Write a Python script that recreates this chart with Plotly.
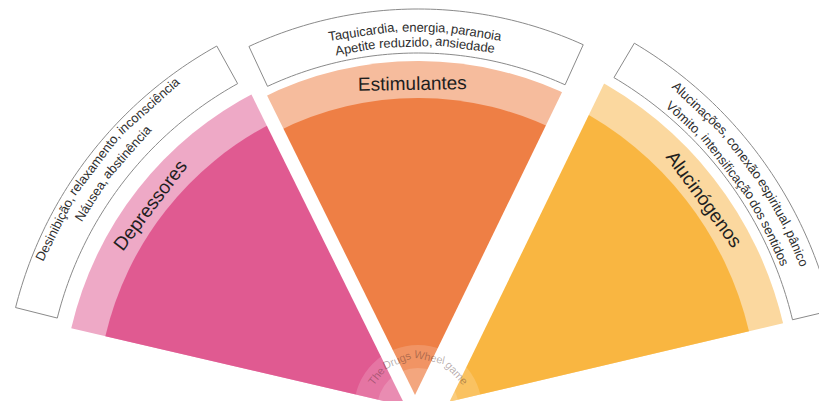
import math
import numpy as np
import plotly.graph_objects as go

FIG_W, FIG_H = 827, 401

# ---------------- data ----------------
categories = ["Depressores", "Estimulantes", "Alucinógenos"]
sector_from = [116.8, 62.8, 13.2]      # degrees (counter-clockwise from east)
sector_to = [166.9, 116.8, 62.8]
outer_radius = [356, 348, 375]
inner_radius = [321, 311, 340]
effects_outer = [
    "Desinibição, relaxamento, inconsciência",
    "Taquicardia, energia, paranoia",
    "Alucinações, conexão espiritual, pânico",
]
effects_inner = [
    "Náusea, abstinência",
    "Apetite reduzido, ansiedade",
    "Vômito, intensificação dos sentidos",
]
watermark = "The Drugs Wheel game"

# ---------------- styling / placement ----------------
dark_colors = ["#E05A91", "#EE7F45", "#F9B641"]
light_colors = ["#EEA9C6", "#F6BC9D", "#FBD89F"]

box_from = [119.0, 65.6, 13.4]
box_to = [165.85, 115.0, 59.4]
box_base = [372, 356, 385]
box_top = [415, 400, 425]
BOX_LINE = "#8a8a8a"

label_radius = [337, 326, 355]
label_theta = [142.75, 90.9, 36.2]
effects_theta = [142.3, 90.5, 36.0]
effects_outer_radius = [406, 381.5, 412]
effects_inner_radius = [388, 367, 394]

gap_angle = [116.3, 64.1]
gap_shift = [3.2, -8.2]
gap_width = [13.5, 34]
gap_reach = [364, 382]

ring_outer, ring_inner, ring_text_r = 64, 41, 53

SECTOR = [10, 170]
DOMAIN_X = [0.0, 0.9915]
R_MAX = 401
FONT = "Liberation Sans, Arial, Helvetica, sans-serif"

# ---------------- polar geometry (mirrors plotly's layout of the sector) ----------------
a0, a1 = (math.radians(v) for v in SECTOR)
bx0, bx1 = min(math.cos(a0), math.cos(a1)), max(math.cos(a0), math.cos(a1))
by0, by1 = 0.0, 1.0
xlen = FIG_W * (DOMAIN_X[1] - DOMAIN_X[0])
ylen = FIG_H
if xlen / ylen > (bx1 - bx0) / (by1 - by0):
    RAD = ylen / (by1 - by0)
    xoff = FIG_W * DOMAIN_X[0] + (xlen - RAD * (bx1 - bx0)) / 2
    yoff = 0.0
else:
    RAD = xlen / (bx1 - bx0)
    xoff = FIG_W * DOMAIN_X[0]
    yoff = (ylen - RAD * (by1 - by0)) / 2
CX = xoff - RAD * bx0
CY = yoff + RAD * by1
SCALE = RAD / R_MAX          # pixels per radial unit


def ax(v):
    """pixel radius -> radial axis units"""
    return v / SCALE


def to_paper(rpx, th_deg):
    t = math.radians(th_deg)
    x = CX + rpx * math.cos(t)
    y = CY - rpx * math.sin(t)
    return x / FIG_W, 1 - y / FIG_H


# Helvetica / Arial advance widths (per 1000 em)
CW = {' ': 278, ',': 278, '.': 278,
      'a': 556, 'b': 556, 'c': 500, 'd': 556, 'e': 556, 'f': 278, 'g': 556, 'h': 556, 'i': 222,
      'j': 222, 'k': 500, 'l': 222, 'm': 833, 'n': 556, 'o': 556, 'p': 556, 'q': 556, 'r': 333,
      's': 500, 't': 278, 'u': 556, 'v': 500, 'w': 722, 'x': 500, 'y': 500, 'z': 500,
      'A': 667, 'B': 667, 'C': 722, 'D': 722, 'E': 667, 'F': 611, 'G': 778, 'H': 722, 'I': 278,
      'J': 500, 'K': 667, 'L': 556, 'M': 833, 'N': 722, 'O': 778, 'P': 667, 'Q': 778, 'R': 722,
      'S': 667, 'T': 611, 'U': 722, 'V': 667, 'W': 944, 'X': 667, 'Y': 667, 'Z': 611,
      'ç': 500, 'ã': 556, 'á': 556, 'â': 556, 'ê': 556, 'é': 556, 'ó': 556, 'ô': 556, 'õ': 556,
      'í': 222, 'ú': 556}


def text_w(s, size):
    return sum(CW.get(ch, 556) for ch in s) * size / 1000.0


annotations = []


def arc_text(text, rpx, theta_c, size, color):
    words = text.split(' ')
    sp = text_w(' ', size) * 0.85
    widths = [text_w(w, size) for w in words]
    total = sum(widths) + sp * (len(words) - 1)
    start = theta_c + math.degrees(total / 2 / rpx)
    pos = 0.0
    for w, wd in zip(words, widths):
        th = start - math.degrees((pos + wd / 2) / rpx)
        x, y = to_paper(rpx, th)
        annotations.append(dict(
            x=x, y=y, xref="paper", yref="paper", text=w, showarrow=False,
            xanchor="center", yanchor="middle", textangle=90 - th,
            font=dict(family=FONT, size=size, color=color)))
        pos += wd + sp


fig = go.Figure()

centers = [(a + b) / 2 for a, b in zip(sector_from, sector_to)]
widths = [b - a for a, b in zip(sector_from, sector_to)]

# light outer band (full wedge) and darker core
fig.add_trace(go.Barpolar(r=[ax(v) for v in outer_radius], theta=centers, width=widths, base=0,
                          marker=dict(color=light_colors, line=dict(width=0)),
                          hoverinfo="skip", name="faixa"))
fig.add_trace(go.Barpolar(r=[ax(v) for v in inner_radius], theta=centers, width=widths, base=0,
                          marker=dict(color=dark_colors, line=dict(width=0)),
                          hoverinfo="skip", name="categorias"))

# translucent centre ring
for rr in (ring_outer, ring_inner):
    fig.add_trace(go.Barpolar(r=[ax(rr)], theta=[90], width=[180], base=0,
                              marker=dict(color="rgba(255,255,255,0.17)", line=dict(width=0)),
                              hoverinfo="skip"))

# white separating gaps
for ang, d, w, reach in zip(gap_angle, gap_shift, gap_width, gap_reach):
    phi = math.radians(ang)
    rr, tt = [], []
    for s in (-80, reach):
        x = s * math.cos(phi) - d * math.sin(phi)
        y = s * math.sin(phi) + d * math.cos(phi)
        rr.append(ax(math.hypot(x, y)))
        tt.append(math.degrees(math.atan2(y, x)))
    fig.add_trace(go.Scatterpolar(r=rr, theta=tt, mode="lines",
                                  line=dict(color="white", width=w),
                                  cliponaxis=False, hoverinfo="skip"))

# effect boxes: annular frames as layout shapes (paper coordinates from the polar geometry)
shapes = []
for f, t, b, tp in zip(box_from, box_to, box_base, box_top):
    arc = np.linspace(t, f, 60)
    pts = [to_paper(tp, a) for a in arc] + [to_paper(b, a) for a in arc[::-1]]
    path = "M " + " L ".join(f"{x:.5f},{y:.5f}" for x, y in pts) + " Z"
    shapes.append(dict(type="path", path=path, xref="paper", yref="paper",
                       fillcolor="white", line=dict(color=BOX_LINE, width=1),
                       layer="above"))

# texts
for i, cat in enumerate(categories):
    arc_text(cat, label_radius[i], label_theta[i], 19, "#1e1e1e")
    arc_text(effects_outer[i], effects_outer_radius[i], effects_theta[i], 13, "#2e2e2e")
    arc_text(effects_inner[i], effects_inner_radius[i], effects_theta[i], 13, "#2e2e2e")
arc_text(watermark, ring_text_r, 90, 11, "rgba(70,40,40,0.38)")

fig.update_layout(
    width=FIG_W, height=FIG_H,
    margin=dict(l=0, r=0, t=0, b=0),
    paper_bgcolor="white", plot_bgcolor="white",
    showlegend=False, hovermode=False,
    annotations=annotations,
    shapes=shapes,
    polar=dict(
        domain=dict(x=DOMAIN_X, y=[0, 1]),
        sector=SECTOR, hole=0, bgcolor="rgba(0,0,0,0)",
        barmode="overlay", bargap=0,
        radialaxis=dict(visible=False, range=[0, R_MAX], autorange=False),
        angularaxis=dict(visible=False, rotation=0, direction="counterclockwise"),
    ),
)

fig.write_html("out.html")
